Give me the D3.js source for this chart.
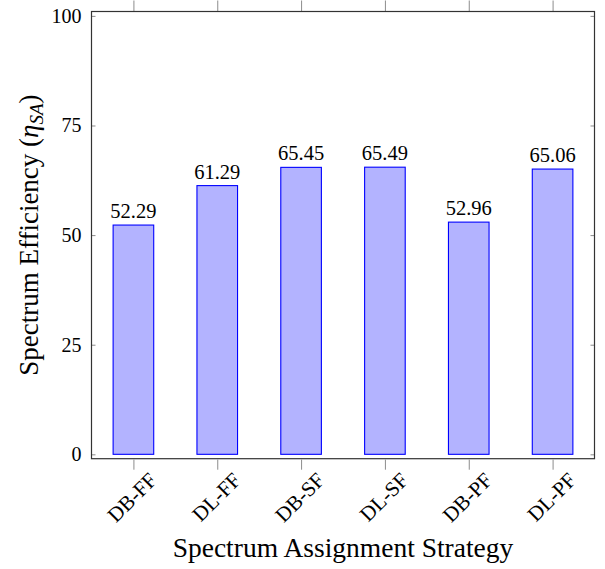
<!DOCTYPE html>
<html>
<head>
<meta charset="utf-8">
<script src="https://cdn.jsdelivr.net/npm/d3@7"></script>
<style>
  html, body { margin: 0; padding: 0; background: #fff; }
  svg text { font-family: "Liberation Serif", "Times New Roman", serif; fill: #000; }
</style>
</head>
<body>
<svg id="chart" width="605" height="569"></svg>
<script>
// Spectrum efficiency per assignment strategy
const categories = ["DB-FF", "DL-FF", "DB-SF", "DL-SF", "DB-PF", "DL-PF"];
const efficiency = [52.29, 61.29, 65.45, 65.49, 52.96, 65.06];
const yTicks = [0, 25, 50, 75, 100];

const svg = d3.select("#chart");
const frame = { left: 91.5, right: 594.5, top: 11.5, bottom: 458.7 };

const x = d3.scaleLinear()
  .domain([-0.5, categories.length - 0.5])
  .range([frame.left, frame.right]);
const y = d3.scaleLinear()
  .domain([-1, 101])
  .range([frame.bottom, frame.top]);

const barWidth = 40.6;
const tickColor = "#8c8c8c";

// bars
svg.append("g").selectAll("rect")
  .data(efficiency)
  .join("rect")
  .attr("x", (d, i) => x(i) - barWidth / 2)
  .attr("y", d => y(d))
  .attr("width", barWidth)
  .attr("height", d => y(0) - y(d))
  .attr("fill", "#b3b3ff")
  .attr("stroke", "#0000ff")
  .attr("stroke-width", 1.1);

// value labels above bars
svg.append("g").selectAll("text")
  .data(efficiency)
  .join("text")
  .attr("x", (d, i) => x(i))
  .attr("y", d => y(d) - 7)
  .attr("text-anchor", "middle")
  .style("font-size", "20.5px")
  .text(d => d.toFixed(2));

// y ticks on both sides, pointing inward
const yAxisL = d3.axisLeft(y).tickValues(yTicks).tickSize(-4).tickPadding(10).tickSizeOuter(0);
const gyl = svg.append("g").attr("transform", `translate(${frame.left},0)`).call(yAxisL)
  .attr("font-size", 20).attr("font-family", "'Liberation Serif', serif");
gyl.select(".domain").remove();
gyl.selectAll(".tick line").attr("stroke", tickColor);
gyl.selectAll(".tick text")
  .style("font-size", "20px")
  .attr("x", -10);

const yAxisR = d3.axisRight(y).tickValues(yTicks).tickSize(-4).tickFormat("").tickSizeOuter(0);
const gyr = svg.append("g").attr("transform", `translate(${frame.right},0)`).call(yAxisR);
gyr.select(".domain").remove();
gyr.selectAll(".tick line").attr("stroke", tickColor);

// x ticks on bottom and top, pointing outward
const xIdx = d3.range(categories.length);
const xAxisB = d3.axisBottom(x).tickValues(xIdx).tickSize(10).tickFormat("").tickSizeOuter(0);
const gxb = svg.append("g").attr("transform", `translate(0,${frame.bottom + 1})`).call(xAxisB);
gxb.select(".domain").remove();
gxb.selectAll(".tick line").attr("stroke", tickColor);

const xAxisT = d3.axisTop(x).tickValues(xIdx).tickSize(11).tickFormat("").tickSizeOuter(0);
const gxt = svg.append("g").attr("transform", `translate(0,${frame.top})`).call(xAxisT);
gxt.select(".domain").remove();
gxt.selectAll(".tick line").attr("stroke", tickColor);

// rotated category labels
svg.append("g").selectAll("text")
  .data(categories)
  .join("text")
  .attr("transform", (d, i) => `translate(${x(i) + 14},${frame.bottom + 12}) rotate(-45)`)
  .attr("text-anchor", "end")
  .attr("dy", "0.72em")
  .style("font-size", "21px")
  .text(d => d);

// frame
svg.append("rect")
  .attr("x", frame.left)
  .attr("y", frame.top)
  .attr("width", frame.right - frame.left)
  .attr("height", frame.bottom - frame.top)
  .attr("fill", "none")
  .attr("stroke", "#333")
  .attr("stroke-width", 1.2);

// axis titles
svg.append("text")
  .attr("x", (frame.left + frame.right) / 2)
  .attr("y", 557)
  .attr("text-anchor", "middle")
  .style("font-size", "27.5px")
  .text("Spectrum Assignment Strategy");

const yl = svg.append("text")
  .attr("transform", `translate(38,${(frame.top + frame.bottom) / 2}) rotate(-90)`)
  .attr("text-anchor", "middle")
  .style("font-size", "27px");
yl.append("tspan").text("Spectrum Efficiency (");
yl.append("tspan").style("font-style", "italic").text("η");
yl.append("tspan").style("font-style", "italic").style("font-size", "19px").attr("dy", 5).text("SA");
yl.append("tspan").attr("dy", -5).text(")");
</script>
</body>
</html>
